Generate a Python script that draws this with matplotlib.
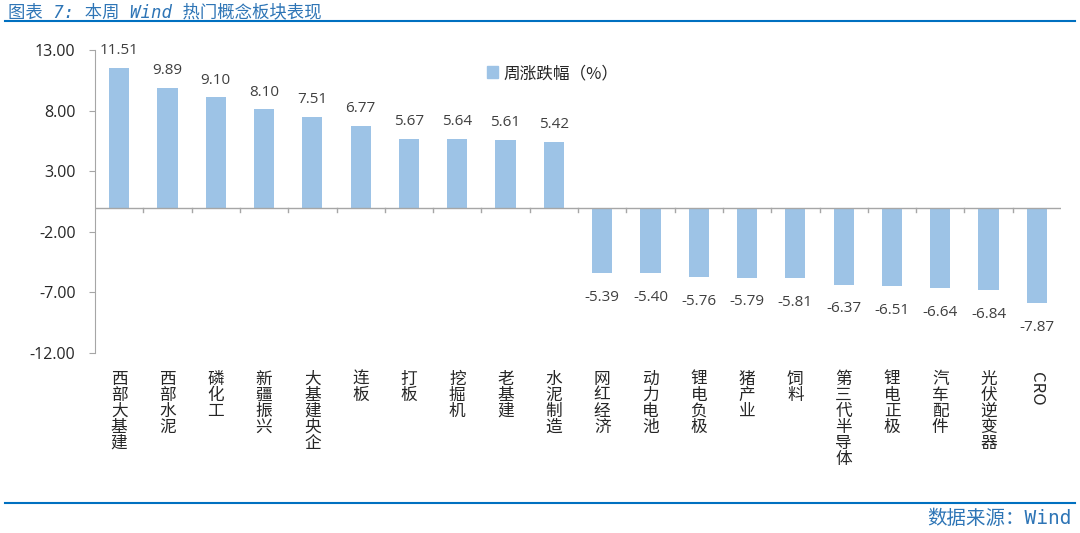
import matplotlib
matplotlib.use("Agg")
import matplotlib.pyplot as plt
from matplotlib.lines import Line2D
from matplotlib.patches import Patch

plt.rcParams['font.family'] = ['Noto Sans CJK SC', 'DejaVu Sans']

categories = ["西部大基建", "西部水泥", "磷化工", "新疆振兴", "大基建央企", "连板", "打板", "挖掘机",
              "老基建", "水泥制造", "网红经济", "动力电池", "锂电负极", "猪产业", "饲料", "第三代半导体",
              "锂电正极", "汽车配件", "光伏逆变器", "CRO"]
values = [11.51, 9.89, 9.10, 8.10, 7.51, 6.77, 5.67, 5.64, 5.61, 5.42,
          -5.39, -5.40, -5.76, -5.79, -5.81, -6.37, -6.51, -6.64, -6.84, -7.87]
yticks = [13, 8, 3, -2, -7, -12]
legend_label = "周涨跌幅（%）"
title = "图表 7: 本周 Wind 热门概念板块表现"
source = "数据来源：Wind"

fig = plt.figure(figsize=(10.8, 5.33), dpi=100)
ax = fig.add_axes([95/1080, 1-353/533, (1061-95)/1080, (353-50)/533])

bar_color = "#9DC3E6"
x = list(range(len(categories)))
bars = ax.bar(x, values, width=0.42, color=bar_color, zorder=2)

ax.set_xlim(-0.5, len(categories)-0.5)
ax.set_ylim(-12, 13)
ax.set_yticks(yticks)
ax.set_yticklabels([f"{v:.2f}" for v in yticks], fontsize=11.5, color="#262626",
                   family=['Open Sans', 'DejaVu Sans'])
ax.tick_params(axis='y', length=4, color="#A6A6A6", pad=10)

for s in ['top', 'right', 'bottom']:
    ax.spines[s].set_visible(False)
ax.spines['left'].set_color("#A6A6A6")
ax.axhline(0, color="#A6A6A6", lw=1, zorder=3)
ax.set_xticks([])
for b in range(1, len(categories)):
    ax.plot([b-0.5, b-0.5], [0, -0.35], color="#A6A6A6", lw=1, zorder=3, clip_on=False)

for xi, v in zip(x, values):
    if v >= 0:
        ax.annotate(f"{v:.2f}", xy=(xi, v), xytext=(0, 7), textcoords='offset points',
                    ha='center', va='bottom', fontsize=11, color="#404040",
                    family=['Open Sans', 'DejaVu Sans'])
    else:
        ax.annotate(f"{v:.2f}", xy=(xi, v), xytext=(0, -12), textcoords='offset points',
                    ha='center', va='top', fontsize=11, color="#404040",
                    family=['Open Sans', 'DejaVu Sans'])

for xi, c in zip(x, categories):
    if c.isascii():
        ax.annotate(c, xy=(xi, -12), xytext=(0, -14), textcoords='offset points',
                    rotation=-90, ha='center', va='top', fontsize=12, color="#262626",
                    annotation_clip=False)
    else:
        ax.annotate("\n".join(c), xy=(xi, -12), xytext=(0, -13), textcoords='offset points',
                    ha='center', va='top', fontsize=12, color="#262626", linespacing=0.92,
                    annotation_clip=False)

leg = ax.legend(handles=[Patch(color=bar_color)], labels=[legend_label], loc='upper left',
                bbox_to_anchor=(0.39, 1.0), frameon=False, fontsize=12, handlelength=0.7,
                handleheight=0.7, handletextpad=0.3)
for t in leg.get_texts():
    t.set_color("#262626")

fig.text(8/1080, 1-12/533, title, ha='left', va='center', fontsize=12.5, color="#2E75B6",
         style='italic', family=['DejaVu Sans Mono', 'Noto Sans CJK SC'])
fig.add_artist(Line2D([5/1080, 1075/1080], [1-21/533, 1-21/533], color="#0070C0", lw=1.5))
fig.add_artist(Line2D([5/1080, 1075/1080], [1-503/533, 1-503/533], color="#0070C0", lw=1.5))
fig.text(1072/1080, 1-518/533, source, ha='right', va='center', fontsize=14, color="#2E75B6",
         family=['DejaVu Sans Mono', 'Noto Sans CJK SC'])

fig.savefig("out.png", dpi=100)
